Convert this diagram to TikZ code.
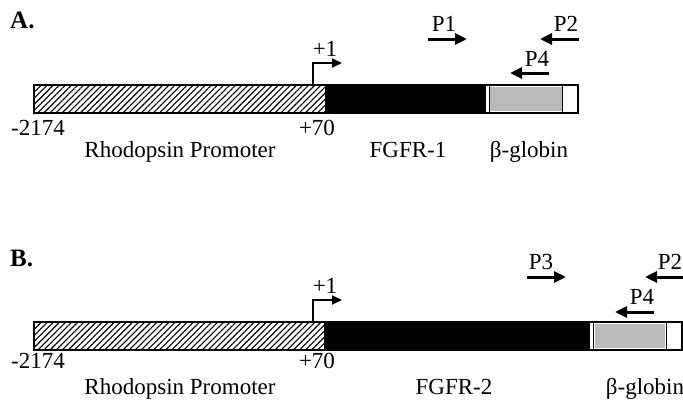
\documentclass[tikz,border=0pt]{standalone}
\usepackage{fontspec}
\setmainfont{Liberation Serif}
\usetikzlibrary{patterns.meta,arrows.meta}
\begin{document}
\begin{tikzpicture}[x=1pt,y=-1pt,
  lbl/.style={font=\fontsize{23}{25}\selectfont, inner sep=0pt, anchor=base},
  panel/.style={font=\fontsize{25}{27}\selectfont\bfseries, inner sep=0pt, anchor=base west},
  barline/.style={line width=1.8pt},
  primer/.style={line width=3pt, -{Triangle[length=12pt,width=11pt]}},
  tss/.style={line width=1.8pt, -{Triangle[length=10pt,width=9pt]}},
  hatch/.style={pattern={Lines[angle=45,distance=4.3pt,line width=1.1pt]}, pattern color=black},
  globin/.style={fill=black!27}]
\useasboundingbox (0,0) rectangle (683,400);

% ---------------- Panel A ----------------
\node[panel] (lA) at (10,28) {A.};
\fill[white] (34,85) rectangle (578,113);
\path[hatch] (34,85) rectangle (325,113);
\fill[black] (325,85) rectangle (486,113);
\fill[globin] (490,87) rectangle (562,111);
\draw[barline] (34,85) rectangle (578,113);
\draw[line width=1pt] (489,85) -- (489,113);
\draw[line width=1pt] (562,85) -- (562,113);
\coordinate (tA0) at (313,85);
\coordinate (tA1) at (313,63);
\coordinate (tA2) at (342,63);
\draw[tss] (tA0) -- (tA1) -- (tA2);
\node[lbl] (pA1) at (325,56) {+1};
\coordinate (p1s) at (428,39); \coordinate (p1e) at (467,39);
\draw[primer] (p1s) -- (p1e);
\node[lbl] (tP1) at (444,31) {P1};
\coordinate (p2s) at (579,39); \coordinate (p2e) at (540,39);
\draw[primer] (p2s) -- (p2e);
\node[lbl] (tP2) at (566,31) {P2};
\coordinate (p4s) at (549,73); \coordinate (p4e) at (510,73);
\draw[primer] (p4s) -- (p4e);
\node[lbl] (tP4) at (537,66) {P4};
\node[lbl] (a1) at (38,135) {-2174};
\node[lbl] (a2) at (317,135) {+70};
\node[lbl] (a3) at (180,157) {Rhodopsin Promoter};
\node[lbl] (a4) at (408,157) {FGFR-1};
\node[lbl] (a5) at (529,157) {β-globin};

% ---------------- Panel B ----------------
\node[panel] (lB) at (10,266) {B.};
\fill[white] (34,322) rectangle (682,350);
\path[hatch] (34,322) rectangle (324,350);
\fill[black] (324,322) rectangle (590,350);
\fill[globin] (595,324) rectangle (665,348);
\draw[barline] (34,322) rectangle (682,350);
\draw[line width=1pt] (593,322) -- (593,350);
\draw[line width=1pt] (666,322) -- (666,350);
\coordinate (tB0) at (313,322);
\coordinate (tB1) at (313,300);
\coordinate (tB2) at (342,300);
\draw[tss] (tB0) -- (tB1) -- (tB2);
\node[lbl] (pB1) at (325,293) {+1};
\coordinate (p3s) at (527,277); \coordinate (p3e) at (566,277);
\draw[primer] (p3s) -- (p3e);
\node[lbl] (tP3) at (541,269) {P3};
\coordinate (q2s) at (683,277); \coordinate (q2e) at (645,277);
\draw[primer] (q2s) -- (q2e);
\node[lbl] (tQ2) at (670,269) {P2};
\coordinate (q4s) at (654,312); \coordinate (q4e) at (615,312);
\draw[primer] (q4s) -- (q4e);
\node[lbl] (tQ4) at (642,304) {P4};
\node[lbl] (b1) at (38,368) {-2174};
\node[lbl] (b2) at (317,368) {+70};
\node[lbl] (b3) at (180,394) {Rhodopsin Promoter};
\node[lbl] (b4) at (454,394) {FGFR-2};
\node[lbl] (b5) at (645,394) {β-globin};
\end{tikzpicture}
\end{document}
